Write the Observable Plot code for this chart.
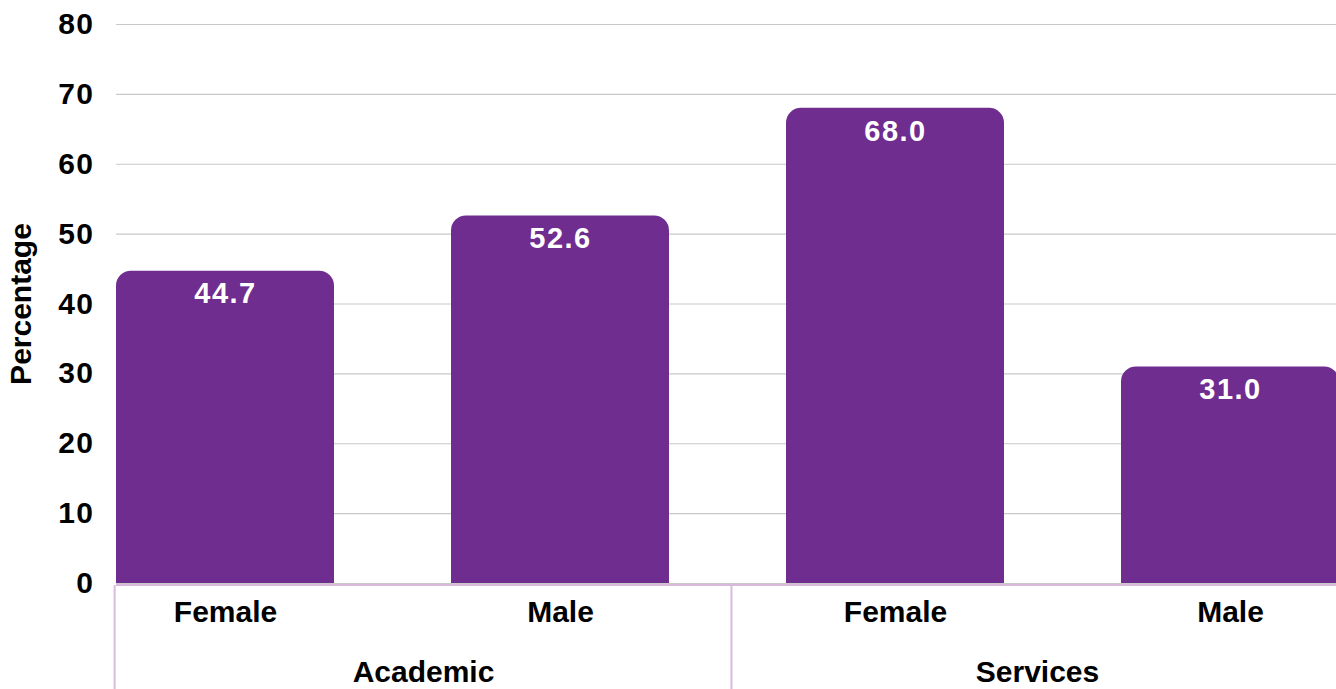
<!DOCTYPE html>
<html>
<head>
<meta charset="utf-8">
<script src="https://cdn.jsdelivr.net/npm/d3@7"></script>
<script src="https://cdn.jsdelivr.net/npm/@observablehq/plot@0.6"></script>
<style>
  html, body { margin: 0; padding: 0; background: #fff; overflow: hidden; }
  #chart svg { display: block; }
  #chart .num text, #chart text.num { letter-spacing: 1.5px; }
</style>
</head>
<body>
<div id="chart"></div>
<script>
// Share of staff by category and gender (%)
const groups  = ["Academic", "Academic", "Services", "Services"];
const genders = ["Female", "Male", "Female", "Male"];
const values  = [44.7, 52.6, 68.0, 31.0];
const yTicks  = [0, 10, 20, 30, 40, 50, 60, 70, 80];
const groupNames = ["Academic", "Services"];

const rows = values.map((v, i) => ({
  key: `${groups[i]} ${genders[i]}`,
  group: groups[i],
  gender: genders[i],
  value: v
}));
const keys = rows.map(d => d.key);

// layout
const W = 1336, H = 689;
const left = 116, right = 1339, pad = 0.35;
const step = (right - left) / (keys.length - pad);
const bw = step * (1 - pad);
const mTop = 24, mBottom = 106;

const purple = "#6f2d8f";
const lilac = "#d9badd";
const font = "'Liberation Sans', Arial, Helvetica, sans-serif";

const firstOf = g => rows.find(d => d.group === g).key;
const lastOf = g => rows.filter(d => d.group === g).at(-1).key;
const sepInset = { insetTop: H - mTop - mBottom + 2, insetBottom: -mBottom };

const chart = Plot.plot({
  width: W,
  height: H,
  marginLeft: left,
  marginRight: 0,
  marginTop: mTop,
  marginBottom: mBottom,
  style: { fontFamily: font, fontWeight: "bold", fontSize: "30px", color: "#000", background: "#fff" },
  x: { type: "band", domain: keys, range: [left, right], paddingInner: pad, paddingOuter: 0, align: 0 },
  y: { domain: [0, 80], ticks: yTicks },
  marks: [
    Plot.gridY(yTicks, { stroke: "#c9c9c9", strokeOpacity: 1, strokeWidth: 1.2 }),
    // bars: rounded top corners, square bottom
    Plot.barY(rows, { x: "key", y: "value", fill: purple, rx: 15 }),
    Plot.barY(rows, { x: "key", y: "value", fill: purple, insetTop: 16 }),
    Plot.ruleY([0], { stroke: lilac, strokeWidth: 2, dy: 1.5 }),
    Plot.text(rows, {
      x: "key", y: "value", text: d => d.value.toFixed(1),
      fill: "#fff", fontSize: 29, fontWeight: "bold", dy: 23, className: "num"
    }),
    Plot.axisY({
      ticks: yTicks, tickSize: 0, tickPadding: 22, fontSize: 30, className: "num",
      label: null
    }),
    Plot.axisY({
      ticks: [], tickSize: 0, fontSize: 30,
      label: "Percentage", labelAnchor: "center", labelArrow: "none", labelOffset: 107,
      style: { letterSpacing: "0.6px" }
    }),
    Plot.axisX({
      tickSize: 0, tickPadding: 17, fontSize: 30,
      tickFormat: k => rows.find(d => d.key === k).gender, label: null
    }),
    // category separators below the axis
    Plot.ruleX([firstOf(groupNames[0])], { x: d => d, dx: -bw / 2 - 2, stroke: lilac, strokeWidth: 2, ...sepInset }),
    Plot.ruleX(groupNames.slice(1).map(firstOf), { x: d => d, dx: -step / 2 + 3.5, stroke: lilac, strokeWidth: 2, ...sepInset }),
    // category labels
    Plot.text([groupNames[0]], { x: () => lastOf(groupNames[0]), y: () => 0, text: d => d, dx: -137, dy: 89, fontSize: 30, fontWeight: "bold", fill: "#000" }),
    Plot.text([groupNames[1]], { x: () => firstOf(groupNames[1]), y: () => 0, text: d => d, dx: 142, dy: 89, fontSize: 30, fontWeight: "bold", fill: "#000" })
  ]
});

document.getElementById("chart").appendChild(chart);
</script>
</body>
</html>
